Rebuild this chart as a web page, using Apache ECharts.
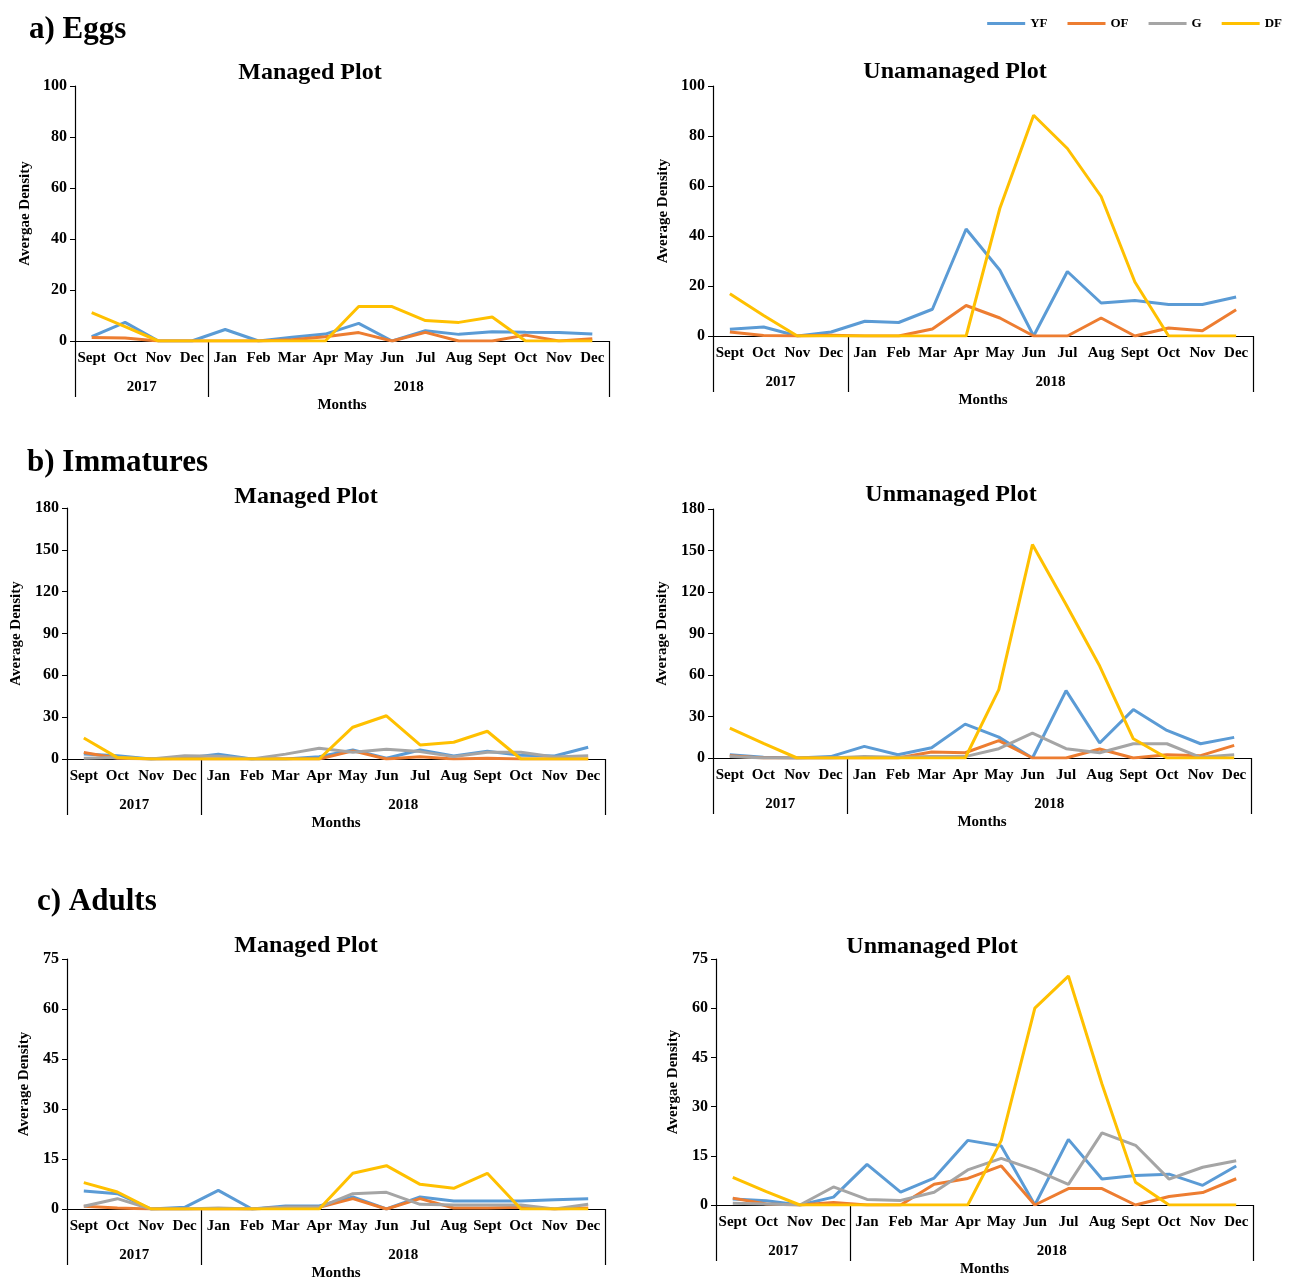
<!DOCTYPE html>
<html>
<head>
<meta charset="utf-8">
<script src="https://cdn.jsdelivr.net/npm/echarts@6/dist/echarts.min.js"></script>
<style>
html,body{margin:0;padding:0;background:#fff;}
#chart{width:1293px;height:1283px;}
</style>
</head>
<body>
<div id="chart"></div>
<script>
var months = ['Sept','Oct','Nov','Dec','Jan','Feb','Mar','Apr','May','Jun','Jul','Aug','Sept','Oct','Nov','Dec'];
var years = ['2017','2018'];
var seriesNames = ['YF','OF','G','DF'];

var eggsManagedYF = [1.7, 7.3, 0, 0, 4.5, 0, 1.5, 2.7, 6.9, 0, 4.0, 2.6, 3.6, 3.4, 3.3, 2.7];
var eggsManagedOF = [1.4, 1.2, 0, 0, 0, 0, 0.5, 1.7, 3.3, 0, 3.4, 0, 0, 2.3, 0, 0.9];
var eggsManagedDF = [11.1, 5.6, 0, 0, 0, 0, 0, 0, 13.5, 13.5, 8.0, 7.3, 9.4, 0, 0, 0];

var eggsUnmanagedYF = [2.7, 3.6, 0, 1.6, 5.9, 5.4, 10.7, 42.8, 26.3, 0, 25.8, 13.2, 14.2, 12.6, 12.6, 15.6];
var eggsUnmanagedOF = [1.6, 0.2, 0, 0.3, 0, 0, 2.8, 12.2, 7.2, 0, 0, 7.2, 0, 3.2, 2.1, 10.5];
var eggsUnmanagedDF = [16.9, 8.2, 0, 0, 0, 0, 0, 0, 51.1, 88.3, 75.0, 55.8, 21.6, 0, 0, 0];

var immManagedYF = [3.6, 2.4, 0, 0.5, 3.4, 0, 0, 1.7, 6.5, 0.5, 6.5, 2.2, 5.5, 2.6, 2.2, 8.4];
var immManagedOF = [4.6, 0.5, 0, 0, 0, 0, 0, 0, 5.8, 0, 1.7, 0, 0.5, 0, 0, 0];
var immManagedG  = [0.5, 1, 0, 2.4, 2, 0, 3.5, 7.7, 4.8, 7, 5.3, 1.7, 4.8, 4.8, 1.5, 2.4];
var immManagedDF = [15.1, 1, 0, 0, 0, 0, 0, 0, 22.8, 31, 10.1, 12, 19.9, 0, 0, 0];

var immUnmanagedYF = [2.4, 0.5, 0, 1, 8.4, 2.4, 7.4, 24.5, 15.1, 0, 48.7, 10.8, 35, 19.9, 10.3, 14.9];
var immUnmanagedOF = [1.7, 0, 0, 0, 0, 0, 4.3, 3.8, 12.5, 0, 0, 6.5, 0, 2.4, 1.7, 9.1];
var immUnmanagedG  = [1, 0, 0, 0, 1, 0.5, 1, 1, 6.7, 18, 6.7, 3.8, 10.3, 10.3, 0.5, 2.4];
var immUnmanagedDF = [21.6, 10.5, 0, 0, 0, 0, 0, 0, 49.4, 154.3, 111, 66.5, 13.9, 0, 0, 0];

var adManagedYF = [5.4, 4.6, 0, 0.5, 5.6, 0, 0.9, 0.9, 3.6, 0, 3.6, 2.4, 2.4, 2.4, 2.8, 3.1];
var adManagedOF = [0.8, 0.3, 0, 0, 0, 0, 0.5, 0.5, 3.1, 0, 3.1, 0.3, 0.3, 0.5, 0, 0.3];
var adManagedG  = [0.8, 3.1, 0, 0, 0.3, 0, 0.5, 0.5, 4.6, 5, 1.4, 1.2, 1.2, 1.2, 0, 1.4];
var adManagedDF = [7.9, 5.1, 0, 0, 0, 0, 0, 0, 10.7, 13, 7.4, 6.2, 10.7, 0, 0, 0];

var adUnmanagedYF = [1.8, 1.3, 0, 2.4, 12.4, 3.9, 8.2, 19.7, 18, 0, 20, 7.9, 9, 9.4, 6, 11.9];
var adUnmanagedOF = [2.1, 0.3, 0, 0.8, 0, 0, 6.3, 8.1, 11.9, 0, 5, 5, 0, 2.6, 3.8, 8];
var adUnmanagedG  = [0.5, 0.3, 0, 5.5, 1.7, 1.4, 3.9, 10.7, 14.2, 10.7, 6.3, 22, 18.2, 7.9, 11.5, 13.5];
var adUnmanagedDF = [8.4, 4.1, 0, 0, 0, 0, 0, 0, 19.7, 60, 69.8, 36.9, 6.9, 0, 0, 0];

var colors = {YF:'#5B9BD5', OF:'#ED7D31', G:'#A5A5A5', DF:'#FFC000'};
var serif = '"Liberation Serif", "DejaVu Serif", serif';

var panels = [
  {title:'Managed Plot', yName:'Avergae Density', max:100, interval:20,
   grid:{left:75, top:86, width:534, height:255}, titlePos:[305,56], nameGap:42,
   data:[eggsManagedYF, eggsManagedOF, null, eggsManagedDF]},
  {title:'Unamanaged Plot', yName:'Average Density', max:100, interval:20,
   grid:{left:713, top:86, width:540, height:250}, titlePos:[950,55], nameGap:42,
   data:[eggsUnmanagedYF, eggsUnmanagedOF, null, eggsUnmanagedDF]},
  {title:'Managed Plot', yName:'Average Density', max:180, interval:30,
   grid:{left:67, top:508, width:538, height:251}, titlePos:[301,480], nameGap:43,
   data:[immManagedYF, immManagedOF, immManagedG, immManagedDF]},
  {title:'Unmanaged Plot', yName:'Average Density', max:180, interval:30,
   grid:{left:713, top:509, width:538, height:249}, titlePos:[946,478], nameGap:43,
   data:[immUnmanagedYF, immUnmanagedOF, immUnmanagedG, immUnmanagedDF]},
  {title:'Managed Plot', yName:'Average Density', max:75, interval:15,
   grid:{left:67, top:959, width:538, height:250}, titlePos:[301,929], nameGap:35,
   data:[adManagedYF, adManagedOF, adManagedG, adManagedDF]},
  {title:'Unmanaged Plot', yName:'Avergae Density', max:75, interval:15,
   grid:{left:716, top:959, width:537, height:246}, titlePos:[927,930], nameGap:35,
   data:[adUnmanagedYF, adUnmanagedOF, adUnmanagedG, adUnmanagedDF]}
];

var sections = [
  {text:'a) Eggs', left:24, top:9},
  {text:'b) Immatures', left:22, top:442},
  {text:'c) Adults', left:32, top:881}
];

var black = '#000';
var titles = [], grids = [], xAxes = [], yAxes = [], series = [];

sections.forEach(function(s){
  titles.push({text:s.text, left:s.left, top:s.top,
    textStyle:{fontFamily:serif, fontWeight:'bold', fontSize:31, color:black}});
});

panels.forEach(function(p, i){
  titles.push({text:p.title, left:p.titlePos[0], top:p.titlePos[1], textAlign:'center',
    textStyle:{fontFamily:serif, fontWeight:'bold', fontSize:24, color:black}});
  grids.push({left:p.grid.left, top:p.grid.top, width:p.grid.width, height:p.grid.height});
  xAxes.push({type:'category', gridIndex:i, data:months, boundaryGap:true,
    axisLine:{lineStyle:{color:black, width:1.2}},
    axisTick:{interval:0, length:27, lineStyle:{color:black, width:1.2}},
    axisLabel:{interval:0, margin:10, color:black, fontFamily:serif, fontWeight:'bold', fontSize:15},
    splitLine:{show:false}});
  xAxes.push({type:'value', gridIndex:i, min:0, max:16, position:'bottom',
    axisLine:{show:false},
    axisTick:{show:true, customValues:[0,4,16], length:56, lineStyle:{color:black, width:1.2}},
    axisLabel:{show:true, customValues:[2,10], margin:39, color:black, fontFamily:serif, fontWeight:'bold', fontSize:15,
      formatter:function(v){ return v < 4 ? years[0] : years[1]; }},
    splitLine:{show:false},
    name:'Months', nameLocation:'middle', nameGap:57,
    nameTextStyle:{color:black, fontFamily:serif, fontWeight:'bold', fontSize:15}});
  yAxes.push({type:'value', gridIndex:i, min:0, max:p.max, interval:p.interval,
    axisLine:{show:true, lineStyle:{color:black, width:1.2}},
    axisTick:{show:true, length:5, lineStyle:{color:black}},
    axisLabel:{margin:8, color:black, fontFamily:serif, fontWeight:'bold', fontSize:16},
    splitLine:{show:false},
    name:p.yName, nameLocation:'middle', nameGap:p.nameGap,
    nameTextStyle:{color:black, fontFamily:serif, fontWeight:'bold', fontSize:15}});
  seriesNames.forEach(function(n, k){
    if (!p.data[k]) return;
    series.push({type:'line', name:n, xAxisIndex:2*i, yAxisIndex:i, data:p.data[k],
      symbol:'none', lineStyle:{width:3, color:colors[n]}, itemStyle:{color:colors[n]},
      z:2+k, animation:false});
  });
});

var chart = echarts.init(document.getElementById('chart'), null, {renderer:'canvas'});
chart.setOption({
  backgroundColor:'#fff',
  animation:false,
  title:titles,
  legend:{data:seriesNames, right:6, top:12, icon:'rect', itemWidth:38, itemHeight:3, itemGap:20,
    textStyle:{fontFamily:serif, fontWeight:'bold', fontSize:13, color:black}},
  grid:grids,
  xAxis:xAxes,
  yAxis:yAxes,
  series:series
});
</script>
</body>
</html>
